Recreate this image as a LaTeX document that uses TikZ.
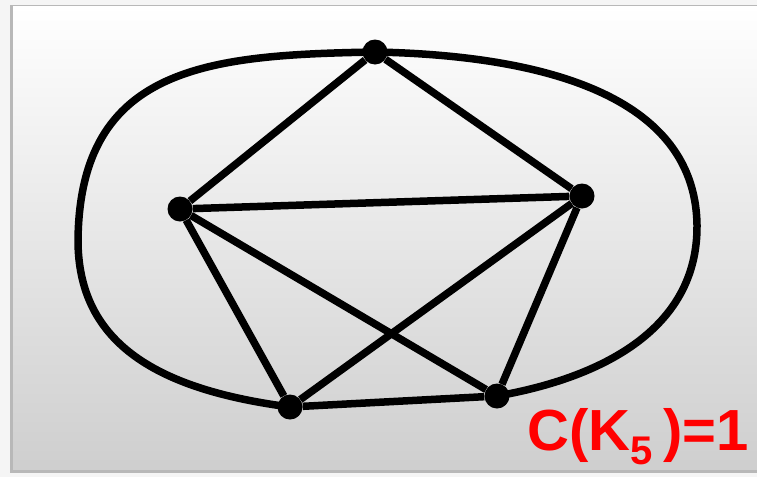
\documentclass[tikz,border=0pt]{standalone}
\usepackage{fontspec}
\setmainfont{Liberation Sans}
\usepackage{xcolor}
\usepackage{tikz}
\usetikzlibrary{calc, positioning}
\tikzset{
  vertex/.style={circle,fill=black,inner sep=0pt,minimum size=25pt},
  link/.style={line width=7.5pt, color=black},
  crosslabel/.style={text=red,font=\bfseries\fontsize{58}{58}\selectfont,inner sep=0pt,anchor=base west}
}

\begin{document}
\begin{tikzpicture}[x=1pt,y=-1pt]
  \clip (0,0) rectangle (757,477);
  \fill[black!4] (0,0) rectangle (757,477);
  \fill[black!28] (10,5) rectangle (790,473);
  \shade[top color=white, middle color=black!5, bottom color=black!19] (13,6) rectangle (790,469);
  % the five vertices of K5
  \node[vertex] (T) at (375,52) {};
  \node[vertex] (L) at (180,209) {};
  \node[vertex] (R) at (582,196) {};
  \node[vertex] (BL) at (290,407) {};
  \node[vertex] (BR) at (497,396) {};
  \draw[link] (T) -- (L) -- (R) -- (T);
  \draw[link] (L) -- (BL) -- (BR) -- (R);
  \draw[link] (L) -- (BR);
  \draw[link] (R) -- (BL);
  % outer edges round the picture
  \draw[link] (T.center) .. controls (210,55) and (80,65) .. (78,240)
    .. controls (78,345) and (160,390) .. (BL.center);
  \draw[link] (T.center) .. controls (525,55) and (695,88) .. (697,225)
    .. controls (698,330) and (600,378) .. (BR.center);
  \node[crosslabel] (cr) at (527,450) {C(K\raisebox{-14pt}{\fontsize{40}{40}\selectfont 5\ })=1};
\end{tikzpicture}
\end{document}
